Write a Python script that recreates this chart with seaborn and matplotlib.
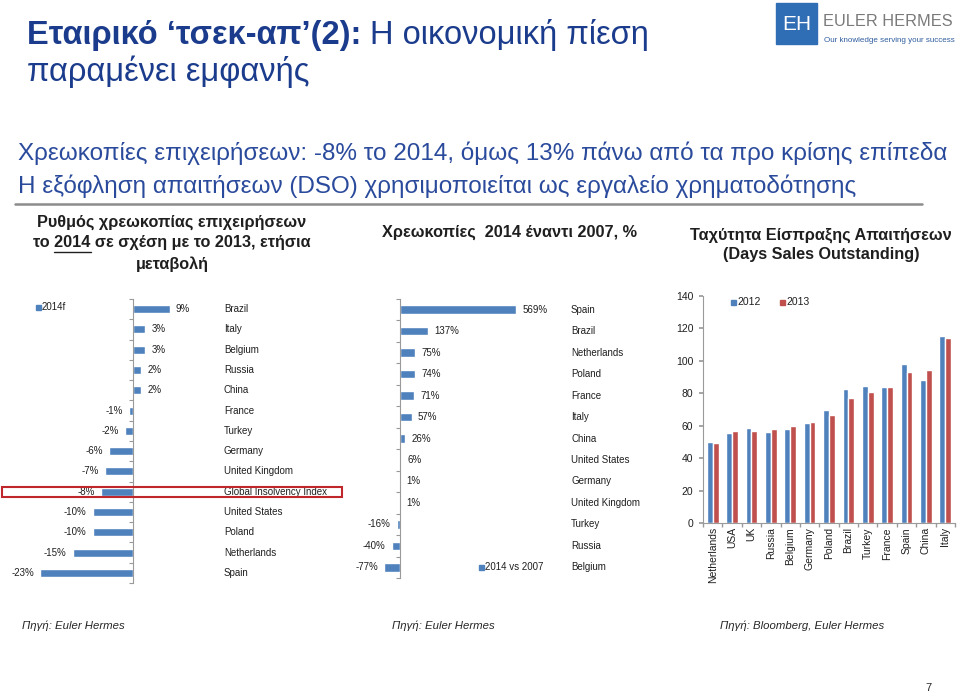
import pandas as pd
import seaborn as sns
import matplotlib.pyplot as plt
import numpy as np
from matplotlib.patches import Rectangle
from matplotlib.transforms import blended_transform_factory

# Data
rate_countries = ['Brazil', 'Italy', 'Belgium', 'Russia', 'China', 'France', 'Turkey', 'Germany',
                  'United Kingdom', 'Global Insolvency Index', 'United States', 'Poland', 'Netherlands', 'Spain']
rate_2014f = [9, 3, 3, 2, 2, -1, -2, -6, -7, -8, -10, -10, -15, -23]

vs_countries = ['Spain', 'Brazil', 'Netherlands', 'Poland', 'France', 'Italy', 'China', 'United States',
                'Germany', 'United Kingdom', 'Turkey', 'Russia', 'Belgium']
vs_2007 = [569, 137, 75, 74, 71, 57, 26, 6, 1, 1, -16, -40, -77]

dso_countries = ['Netherlands', 'USA', 'UK', 'Russia', 'Belgium', 'Germany', 'Poland', 'Brazil',
                 'Turkey', 'France', 'Spain', 'China', 'Italy']
dso_2012 = [50, 55.6, 58.3, 56, 57.9, 61.8, 70, 82.4, 84.6, 83.6, 97.8, 88.5, 115.1]
dso_2013 = [49.5, 56.6, 57, 57.9, 59.9, 62, 66.9, 77.4, 80.9, 84, 92.9, 94.3, 113.9]

BLUE = '#4f81bd'
RED = '#c0504d'
NAVY = '#1b3c8c'
TXT = '#1f1f1f'

sns.set_theme(style='white')
plt.rcParams['font.family'] = ['Liberation Sans', 'DejaVu Sans']

W, H = 960, 695
fig = plt.figure(figsize=(9.6, 6.95), dpi=100)
renderer = fig.canvas.get_renderer()


def box(l, t, r, b):
    return [l / W, 1 - b / H, (r - l) / W, (b - t) / H]


def fx(px):
    return px / W


def fy(py):
    return 1 - py / H


def text_width(s, **kw):
    t = fig.text(0, 0, s, **kw)
    w = t.get_window_extent(renderer).width
    t.remove()
    return w


# ---- Titles
bold_part = 'Εταιρικό ‘τσεκ-απ’(2):'
fig.text(fx(27), fy(44), bold_part, fontsize=23.5, fontweight='bold', color=NAVY, va='baseline')
bw = text_width(bold_part + ' ', fontsize=23.5, fontweight='bold')
fig.text(fx(27 + bw), fy(44), 'Η οικονομική πίεση', fontsize=23.5, color=NAVY, va='baseline')
fig.text(fx(27), fy(81), 'παραμένει εμφανής', fontsize=23.5, color=NAVY, va='baseline')

fig.text(fx(18), fy(160), 'Χρεωκοπίες επιχειρήσεων: -8% το 2014, όμως 13% πάνω από τα προ κρίσης επίπεδα',
         fontsize=17.5, color='#2a4a9c', va='baseline')
fig.text(fx(18), fy(193), 'Η εξόφληση απαιτήσεων (DSO) χρησιμοποιείται ως εργαλείο χρηματοδότησης',
         fontsize=17.5, color='#2a4a9c', va='baseline')
fig.add_artist(plt.Line2D([fx(15), fx(922)], [fy(204), fy(204)], color='#8c8c8c', lw=1.8))

# logo
fig.add_artist(Rectangle((fx(776), fy(44)), fx(41), 41 / H, color='#2f6db5'))
fig.text(fx(796.5), fy(24), 'EH', fontsize=15, color='white', ha='center', va='center')
logo_fs = 12.8 * 130 / text_width('EULER HERMES', fontsize=12.8)
fig.text(fx(823), fy(22), 'EULER HERMES', fontsize=logo_fs, color='#7a7a7a', va='center')
tag_fs = 5.6 * 130 / text_width('Our knowledge serving your success', fontsize=5.6)
fig.text(fx(824), fy(40), 'Our knowledge serving your success', fontsize=tag_fs, color='#2f5d9e',
         va='center')

# panel headers
HS = 11.7
HW = 'bold'
fig.text(fx(172), fy(222), 'Ρυθμός χρεωκοπίας επιχειρήσεων', fontsize=HS, fontweight=HW, ha='center',
         va='center', color=TXT)
line2 = 'το 2014 σε σχέση με το 2013, ετήσια'
fig.text(fx(172), fy(243), line2, fontsize=HS, fontweight=HW, ha='center', va='center', color=TXT)
full_w = text_width(line2, fontsize=HS, fontweight=HW)
u0 = 172 - full_w / 2 + text_width('το ', fontsize=HS, fontweight=HW)
u1 = 172 - full_w / 2 + text_width('το 2014', fontsize=HS, fontweight=HW)
fig.add_artist(plt.Line2D([fx(u0), fx(u1)], [fy(251.5), fy(251.5)], color=TXT, lw=1))
fig.text(fx(172), fy(264), 'μεταβολή', fontsize=HS, fontweight=HW, ha='center', va='center', color=TXT)
fig.text(fx(510), fy(232), 'Χρεωκοπίες  2014 έναντι 2007, %', fontsize=HS, fontweight=HW, ha='center',
         va='center', color=TXT)
fig.text(fx(821), fy(235), 'Ταχύτητα Είσπραξης Απαιτήσεων', fontsize=HS, fontweight=HW, ha='center',
         va='center', color=TXT)
fig.text(fx(821), fy(255), '(Days Sales Outstanding)', fontsize=HS, fontweight=HW, ha='center',
         va='center', color=TXT)


def hbar_panel(ax, cats, vals, xlim, pad_pos, pad_neg, label_x):
    sns.barplot(x=vals, y=cats, orient='h', color=BLUE, width=0.4, saturation=1, ax=ax)
    n = len(cats)
    ax.set_xlim(*xlim)
    ax.set_ylim(n - 0.5, -0.5)
    for s in ['top', 'right', 'bottom']:
        ax.spines[s].set_visible(False)
    ax.spines['left'].set_position(('data', 0))
    ax.spines['left'].set_color('#9a9a9a')
    ax.spines['left'].set_linewidth(0.8)
    ax.set_xticks([])
    ax.set_yticks(np.arange(-0.5, n, 1))
    ax.set_yticklabels([])
    ax.tick_params(axis='y', length=3, color='#9a9a9a', width=0.8, left=True)
    ax.set_xlabel('')
    ax.set_ylabel('')
    tr = blended_transform_factory(fig.transFigure, ax.transData)
    for i, (c, v) in enumerate(zip(cats, vals)):
        if v >= 0:
            ax.text(v + pad_pos, i, f'{v}%', ha='left', va='center', fontsize=7, color=TXT)
        else:
            ax.text(v - pad_neg, i, f'{v}%', ha='right', va='center', fontsize=7, color=TXT)
        ax.text(fx(label_x), i, c, transform=tr, ha='left', va='center', fontsize=7, color=TXT)


# ---- Panel 1
ax1 = fig.add_axes(box(12, 299, 214, 583))
hbar_panel(ax1, rate_countries, rate_2014f, (-30, 20), 1.5, 1.5, 224)
fig.add_artist(Rectangle((fx(36), fy(310)), 5 / W, 5 / H, color=BLUE))
fig.text(fx(42), fy(307.5), '2014f', fontsize=7, va='center', color=TXT)
fig.add_artist(Rectangle((fx(2), fy(497)), fx(340), 10 / H, fill=False, edgecolor='#c0272d', lw=1.5))

# ---- Panel 2
ax2 = fig.add_axes(box(371.4, 299, 563.2, 578))
hbar_panel(ax2, vs_countries, vs_2007, (-140, 800), 30, 30, 571)
fig.add_artist(Rectangle((fx(479), fy(569.5)), 5 / W, 5 / H, color=BLUE))
fig.text(fx(485), fy(567), '2014 vs 2007', fontsize=7, va='center', color=TXT)

# ---- Panel 3
ax3 = fig.add_axes(box(703, 296, 955, 523))
df = pd.DataFrame({
    'country': dso_countries * 2,
    'days': dso_2012 + dso_2013,
    'year': ['2012'] * len(dso_countries) + ['2013'] * len(dso_countries),
})
sns.barplot(data=df, x='country', y='days', hue='year', palette=[BLUE, RED], width=0.6,
            saturation=1, ax=ax3, legend=False)
ax3.set_ylim(0, 140)
ax3.set_xlim(-0.5, len(dso_countries) - 0.5)
ax3.set_yticks(np.arange(0, 141, 20))
ax3.tick_params(axis='y', labelsize=7.5, length=3, color='#9a9a9a', left=True, pad=4)
ax3.tick_params(axis='x', labelsize=7.5, rotation=90, length=3, color='#9a9a9a', bottom=True, pad=3)
ax3.set_xticks(np.arange(-0.5, len(dso_countries), 1), minor=True)
ax3.tick_params(axis='x', which='major', length=0)
ax3.tick_params(axis='x', which='minor', length=3, color='#9a9a9a', bottom=True)
for s in ['top', 'right']:
    ax3.spines[s].set_visible(False)
for s in ['left', 'bottom']:
    ax3.spines[s].set_color('#9a9a9a')
    ax3.spines[s].set_linewidth(0.8)
ax3.set_xlabel('')
ax3.set_ylabel('')
for lbl in ax3.get_xticklabels() + ax3.get_yticklabels():
    lbl.set_color(TXT)
fig.add_artist(Rectangle((fx(731), fy(305)), 5 / W, 5 / H, color=BLUE))
fig.text(fx(737), fy(302.5), '2012', fontsize=7.5, va='center', color=TXT)
fig.add_artist(Rectangle((fx(780), fy(305)), 5 / W, 5 / H, color=RED))
fig.text(fx(786), fy(302.5), '2013', fontsize=7.5, va='center', color=TXT)

# ---- Sources
fig.text(fx(22), fy(626), 'Πηγή: Euler Hermes', fontsize=8.2, style='italic', va='center')
fig.text(fx(392), fy(626), 'Πηγή: Euler Hermes', fontsize=8.2, style='italic', va='center')
fig.text(fx(720), fy(626), 'Πηγή: Bloomberg, Euler Hermes', fontsize=8.2, style='italic', va='center')
fig.text(fx(925), fy(688), '7', fontsize=8, va='center')

fig.savefig('out.png', dpi=100)
